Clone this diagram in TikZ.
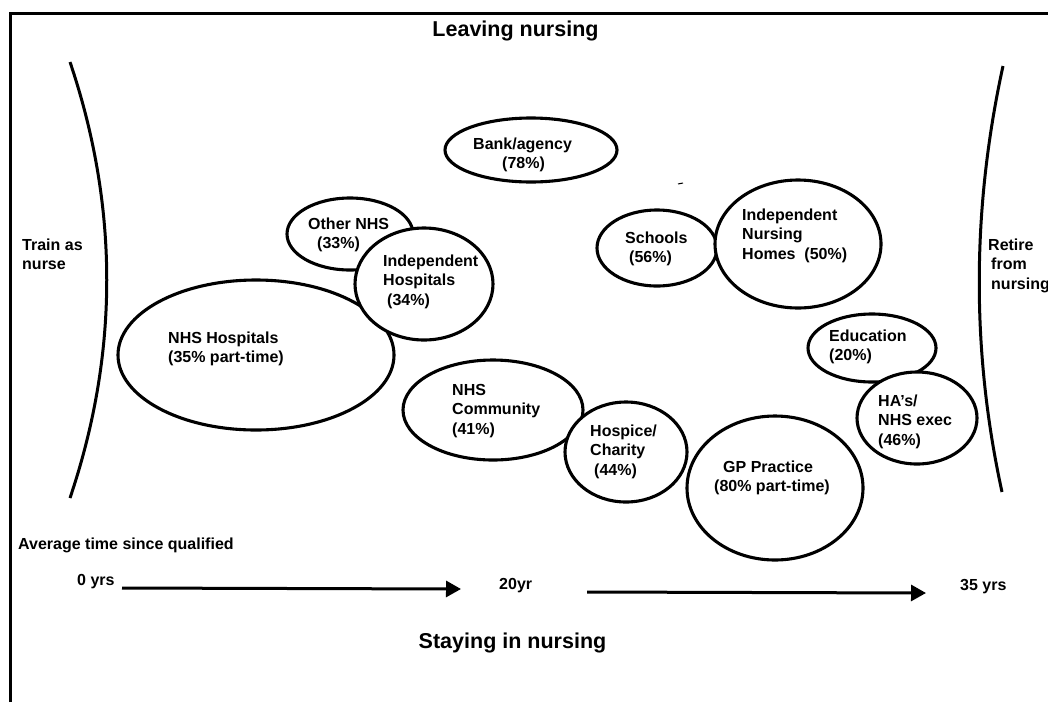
\documentclass[tikz,border=0pt]{standalone}
\usepackage{fontspec}
\setmainfont{Liberation Sans}
\usetikzlibrary{shapes.geometric,arrows.meta}
\newcommand\tl[1]{\hbox{#1}}
\begin{document}
\begin{tikzpicture}[x=1pt,y=-1pt,
  bub/.style={ellipse,draw,fill=white,line width=3.1pt,inner sep=0pt},
  lab/.style={anchor=base west,inner sep=0pt,font=\bfseries\fontsize{16}{19.7}\selectfont},
  ttl/.style={anchor=base,inner sep=0pt,font=\bfseries\fontsize{21.5}{26}\selectfont},
  thick line/.style={line width=3pt},
  tarrow/.style={line width=3pt,-{Triangle[length=15pt,width=16pt]}}]
\useasboundingbox (0,0) rectangle (1048,702);
% frame
\draw[thick line] (10,702) -- (10,13) -- (1048,13);
% brackets
\draw[thick line] (70,62) .. controls (119,207) and (119,353) .. (70,498);
\draw[thick line] (1003,66) .. controls (972,208) and (971,350) .. (1002,492);
% stray mark
\draw[line width=1pt] (678,184) -- (683,183);
% titles
\node[ttl] (leave) at (515.5,36) {Leaving nursing};
\node[ttl] (stay) at (512.5,648) {Staying in nursing};
% side labels
\node[lab] (train) at (22,250) {\vtop{\tl{Train as}\tl{nurse}}};
\node[lab] (retire) at (988,250) {\vtop{\tl{Retire}\tl{\kern3pt from}\tl{\kern3pt nursing}}};
% bubbles (back to front)
\node[bub,minimum width=276pt,minimum height=150pt] (nhshosp) at (256,355) {};
\node[bub,minimum width=126pt,minimum height=72pt] (othernhs) at (350,234) {};
\node[bub,minimum width=138pt,minimum height=112pt] (indhosp) at (424,284) {};
\node[bub,minimum width=172pt,minimum height=64pt] (bank) at (531,150) {};
\node[bub,minimum width=120pt,minimum height=76pt] (schools) at (657,248) {};
\node[bub,minimum width=166pt,minimum height=128pt] (inh) at (798,244) {};
\node[bub,minimum width=180pt,minimum height=100pt] (nhscomm) at (493,410) {};
\node[bub,minimum width=176pt,minimum height=144pt] (gp) at (775,488) {};
\node[bub,minimum width=122pt,minimum height=100pt] (hospice) at (626,452) {};
\node[bub,minimum width=128pt,minimum height=68pt] (educ) at (872,348) {};
\node[bub,minimum width=120pt,minimum height=92pt] (ha) at (917,418) {};
% bubble labels
\node[lab] (tnhshosp) at (168,343) {\vtop{\tl{NHS Hospitals}\tl{(35\% part-time)}}};
\node[lab] (tothernhs) at (308,229) {\vtop{\tl{Other NHS}\tl{\kern9pt(33\%)}}};
\node[lab] (tindhosp) at (383,266) {\vtop{\tl{Independent}\tl{Hospitals}\tl{\kern4pt(34\%)}}};
\node[lab] (tbank) at (473,149) {\vtop{\tl{Bank/agency}\tl{\kern29pt(78\%)}}};
\node[lab] (tschools) at (625,243) {\vtop{\tl{Schools}\tl{\kern4pt(56\%)}}};
\node[lab] (tinh) at (742,220) {\vtop{\tl{Independent}\tl{Nursing}\tl{Homes\ \ (50\%)}}};
\node[lab] (tnhscomm) at (452,395) {\vtop{\tl{NHS}\tl{Community}\tl{(41\%)}}};
\node[lab] (thospice) at (590,436) {\vtop{\tl{Hospice/}\tl{Charity}\tl{\kern4pt(44\%)}}};
\node[lab] (tgp) at (714,472) {\vtop{\tl{\kern9pt GP Practice}\tl{(80\% part-time)}}};
\node[lab] (teduc) at (829,341) {\vtop{\tl{Education}\tl{(20\%)}}};
\node[lab] (tha) at (878,406) {\vtop{\tl{HA’s/}\tl{NHS exec}\tl{(46\%)}}};
% time axis
\node[lab] (avg) at (18,549) {Average time since qualified};
\node[lab] (y0) at (77,585) {0 yrs};
\node[lab] (y20) at (499,589) {20yr};
\node[lab] (y35) at (960,590) {35 yrs};
\coordinate (a1s) at (122,588);
\coordinate (a1e) at (461,589);
\coordinate (a2s) at (587,592);
\coordinate (a2e) at (926,593);
\draw[tarrow] (a1s) -- (a1e);
\draw[tarrow] (a2s) -- (a2e);
\end{tikzpicture}
\end{document}
